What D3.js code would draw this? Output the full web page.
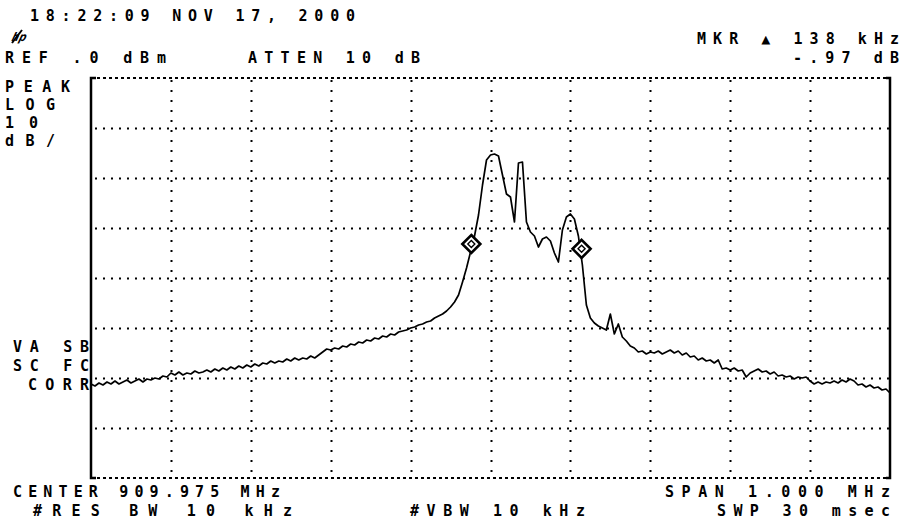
<!DOCTYPE html>
<html><head><meta charset="utf-8">
<script src="https://cdn.jsdelivr.net/npm/d3@7/dist/d3.min.js"></script>
<style>
html,body{margin:0;padding:0;background:#fff;}
svg{display:block;}
text{font-family:"DejaVu Sans Mono",monospace;font-weight:bold;fill:#000;}
</style></head>
<body>
<svg id="c" width="903" height="525"></svg>
<script>
// ---- data ----
const centerMHz = 909.975;
const spanKHz = 1000;
const refLevelDbm = 0;
const dbPerDiv = 10;
const sweepStartKHz = -500;   // offset from centre
const sweepStepKHz = 5;
// trace amplitude (dBm), one value per sweep step
const traceDbm = [
 -61.2,-61.6,-61.0,-61.4,-60.8,-61.2,-60.6,-61.2,-60.8,-60.4,-61.0,-60.6,-60.2,-60.8,-60.2,-60.4,-60.0,-60.2,-59.6,-59.8,-59.0,-59.4,-58.8,-59.4,-59.0,-59.2,-58.6,-59.0,
 -58.8,-58.4,-58.8,-58.2,-58.6,-58.0,-58.4,-57.8,-58.2,-57.6,-58.0,-57.4,-57.8,-57.2,-57.6,-57.0,-57.2,-56.6,-57.0,-56.6,-56.8,-56.2,-56.6,-56.0,-56.4,-56.0,-56.2,-55.6,-56.0,-55.4,
 -54.8,-54.2,-54.4,-54.0,-54.2,-53.6,-53.8,-53.2,-53.4,-52.8,-53.0,-52.4,-52.6,-52.0,-52.2,-51.6,-51.8,-51.2,-51.4,-50.8,-50.6,-50.4,-50.0,-49.8,-49.4,-49.2,-48.8,-48.6,-48.0,-47.6,
 -47.2,-46.6,-45.8,-44.8,-43.4,-40.8,-38.0,-34.8,-31.6,-27.4,-21.4,-16.4,-15.4,
 -15.2,-15.6,-19.4,-23.2,-23.8,-28.8,-17.0,-16.8,-28.8,-30.8,-31.6,-33.8,-32.2,-31.8,-32.6,-35.0,-36.8,-30.4,-27.8,-27.2,-28.2,-31.6,-37.4,
 -45.4,-48.0,-49.0,-49.6,-50.0,-50.4,-47.2,-51.2,-49.2,-51.8,-52.6,-53.6,-54.0,-54.8,-54.6,-55.2,-54.8,-55.0,-54.6,-55.2,-54.8,-54.4,-55.0,-54.6,-55.4,-55.0,-55.8,-55.6,-56.4,
 -56.0,-56.6,-56.4,-57.0,-56.4,-58.2,-58.0,-58.4,-58.0,-58.6,-58.4,-59.8,-59.0,-58.6,-58.2,-58.8,-58.6,-59.2,-58.8,-59.6,-59.4,-59.8,-59.6,-60.2,-59.8,-60.0,-59.8,-60.6,-61.2,-60.8,-61.2,-60.8,-61.0,-60.6,-61.0,-60.4,-60.8,-60.2,-60.6,-61.4,-61.2,-61.8,-61.4,-62.0,-61.8,-62.4,-62.2,-63.0
];
const markerOffsetsKHz = [-24, 114];
const markerDbm = [-33.2, -34.17];
const headerDate = "18:22:09 NOV 17, 2000";
const refLabel = "REF .0 dBm";
const attenLabel = "ATTEN 10 dB";
const mkrLabel = "MKR \u25B2 138 kHz";
const mkrValue = "-.97 dB";
const sideLabels = ["PEAK", "LOG", "10", "dB/"];
const corrLabels = ["VA SB", "SC FC", "CORR"];
const centerLabel = "CENTER 909.975 MHz";
const rbwLabel = "#RES BW 10 kHz";
const vbwLabel = "#VBW 10 kHz";
const spanLabel = "SPAN 1.000 MHz";
const swpLabel = "SWP 30 msec";

// ---- layout ----
const L = 91, R = 890, T = 78, B = 478;
const svg = d3.select("#c");
const x = d3.scaleLinear().domain([-spanKHz/2, spanKHz/2]).range([L, R]);
const y = d3.scaleLinear().domain([refLevelDbm, refLevelDbm - 8*dbPerDiv]).range([T, B]);

const g = svg.append("g");
// interior grid
const xTicks = d3.range(-spanKHz/2 + 100, spanKHz/2, 100);
const yTicks = d3.range(refLevelDbm - dbPerDiv, refLevelDbm - 8*dbPerDiv, -dbPerDiv);
g.selectAll(".vg").data(xTicks).join("line")
  .attr("x1", d => Math.round(x(d)) + 0.5).attr("x2", d => Math.round(x(d)) + 0.5)
  .attr("y1", T + 2).attr("y2", B)
  .attr("stroke", "#000").attr("stroke-width", 2).attr("stroke-dasharray", "2,8");
g.selectAll(".hg").data(yTicks).join("line")
  .attr("x1", L + 4).attr("x2", R)
  .attr("y1", d => Math.round(y(d)) + 0.5).attr("y2", d => Math.round(y(d)) + 0.5)
  .attr("stroke", "#000").attr("stroke-width", 2).attr("stroke-dasharray", "2,6");
// frame
g.append("line").attr("x1", L).attr("x2", R).attr("y1", T).attr("y2", T)
  .attr("stroke", "#000").attr("stroke-width", 2).attr("stroke-dasharray", "3,3");
g.append("line").attr("x1", L).attr("x2", R).attr("y1", B).attr("y2", B)
  .attr("stroke", "#000").attr("stroke-width", 2).attr("stroke-dasharray", "3,3");
g.append("path").attr("d", `M${L+5},${T}H${L}V${B}H${L+5}`)
  .attr("fill", "none").attr("stroke", "#000").attr("stroke-width", 2.5);
g.append("path").attr("d", `M${R-4},${T}H${R}V${B}H${R-4}`)
  .attr("fill", "none").attr("stroke", "#000").attr("stroke-width", 2.5);

// trace
const pts = traceDbm.map((v, i) => [sweepStartKHz + i*sweepStepKHz, v]);
g.append("path").datum(pts)
  .attr("d", d3.line().x(d => x(d[0])).y(d => y(d[1])))
  .attr("fill", "none").attr("stroke", "#000").attr("stroke-width", 1.7)
  .attr("stroke-linejoin", "round");

// markers
markerOffsetsKHz.forEach((f, i) => {
  const cx = x(f), cy = y(markerDbm[i]);
  g.append("path").attr("d", `M${cx},${cy-9}L${cx+9},${cy}L${cx},${cy+9}L${cx-9},${cy}Z`)
    .attr("fill", "#fff").attr("stroke", "#000").attr("stroke-width", 2.6);
  g.append("path").attr("d", `M${cx},${cy-3.5}L${cx+3.5},${cy}L${cx},${cy+3.5}L${cx-3.5},${cy}Z`)
    .attr("fill", "#fff").attr("stroke", "#000").attr("stroke-width", 1.4);
});

// text helper: start x, end x, baseline
function label(txt, x0, x1, yb) {
  svg.append("text").attr("x", x0).attr("y", yb)
    .attr("font-size", 15).attr("textLength", x1 - x0).attr("lengthAdjust", "spacing")
    .attr("xml:space", "preserve").text(txt);
}
label(headerDate, 30, 355, 21);
// hp logo
svg.append("text").attr("x", 12).attr("y", 41).attr("font-size", 12)
  .attr("font-style", "italic").attr("transform", "skewX(-15) translate(10,0)")
  .text("hp");
svg.append("line").attr("x1", 12).attr("y1", 43).attr("x2", 22).attr("y2", 30)
  .attr("stroke", "#000").attr("stroke-width", 2);
label(refLabel, 5, 166, 63);
label(attenLabel, 248, 420, 63);
label(mkrLabel, 697, 899, 44);
label(mkrValue, 793, 899, 63);
const sideEnds = [70, 55, 38, 55];
sideLabels.forEach((s, i) => label(s, 5, sideEnds[i], 92 + i*18));
const corrStarts = [13, 13, 28];
corrLabels.forEach((s, i) => label(s, corrStarts[i], 89, 352 + i*19));
label(centerLabel, 13, 280, 497);
label(rbwLabel, 33, 292, 516);
label(vbwLabel, 410, 585, 516);
label(spanLabel, 665, 890, 497);
label(swpLabel, 717, 890, 516);
</script>
</body></html>
